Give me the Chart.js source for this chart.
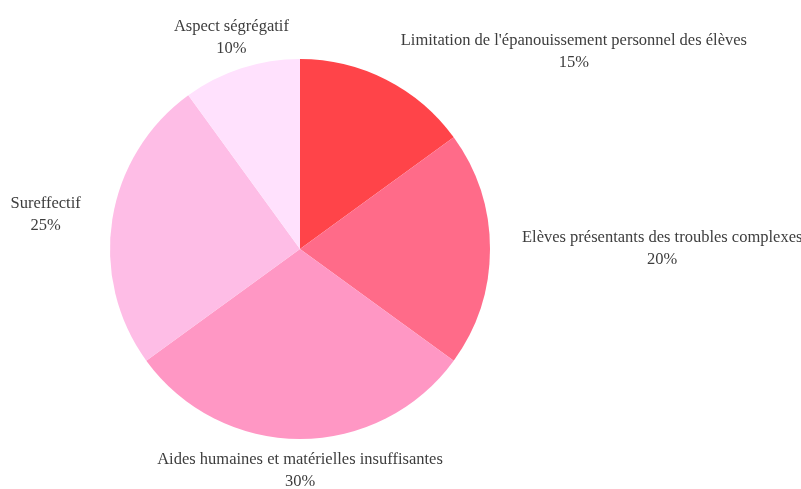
<!DOCTYPE html>
<html lang="fr">
<head>
<meta charset="utf-8">
<script src="https://cdn.jsdelivr.net/npm/chart.js@4"></script>
<style>
    html, body { margin: 0; padding: 0; background: #fff; }
    #wrap { width: 801px; height: 489px; }
</style>
</head>
<body>
<div id="wrap"><canvas id="cPie"></canvas></div>
<script>
// data
const labels = [
    "Limitation de l'épanouissement personnel des élèves",
    "Elèves présentants des troubles complexes",
    "Aides humaines et matérielles insuffisantes",
    "Sureffectif",
    "Aspect ségrégatif"
];
const values = [15, 20, 30, 25, 10];
const colors = ["#FF4449", "#FF6B89", "#FF97C4", "#FEBDE6", "#FFE1FD"];

// outside labels, text block placed along the slice mid angle
const outLabels = {
    id: "outLabels",
    afterDatasetsDraw(chart) {
        const ctx = chart.ctx;
        const meta = chart.getDatasetMeta(0);
        ctx.save();
        ctx.font = "16.5px 'Liberation Serif', serif";
        ctx.fillStyle = "#3d3d3d";
        ctx.textBaseline = "middle";
        ctx.textAlign = "center";
        meta.data.forEach((arc, i) => {
            const p = arc.getProps(["x", "y", "startAngle", "endAngle", "outerRadius"], true);
            const mid = (p.startAngle + p.endAngle) / 2;
            const dx = Math.cos(mid), dy = Math.sin(mid);
            const r = p.outerRadius + 32;
            const ax = p.x + dx * r;
            const ay = p.y + dy * r;
            const lines = [labels[i], values[i] + "%"];
            const w = Math.max(...lines.map(t => ctx.measureText(t).width));
            let cx = ax;
            if (Math.abs(dx) >= 0.4) cx = ax + Math.sign(dx) * w / 2;
            const lh = 22;
            ctx.fillText(lines[0], cx, ay - lh / 2);
            ctx.fillText(lines[1], cx, ay + lh / 2);
        });
        ctx.restore();
    }
};

new Chart(document.getElementById("cPie"), {
    type: "pie",
    data: {
        labels,
        datasets: [{
            data: values,
            backgroundColor: colors,
            borderWidth: 0
        }]
    },
    options: {
        responsive: true,
        maintainAspectRatio: false,
        animation: false,
        layout: { padding: { left: 110, right: 311, top: 59, bottom: 50 } },
        plugins: {
            legend: { display: false },
            tooltip: { enabled: false }
        }
    },
    plugins: [outLabels]
});
</script>
</body>
</html>
